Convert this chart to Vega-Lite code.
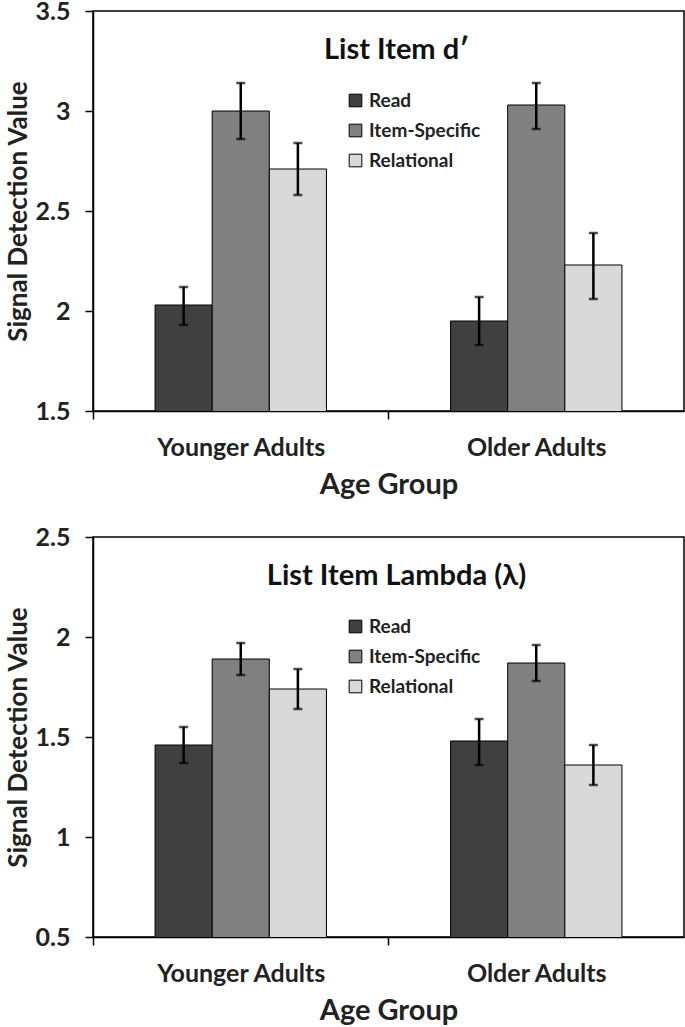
{
  "$schema": "https://vega.github.io/schema/vega-lite/v6.json",
  "padding": {"top": -2, "left": 4, "right": 1, "bottom": 2},
  "background": "white",
  "config": {
    "font": "Lato",
    "view": {"stroke": "black", "strokeWidth": 1.5},
    "concat": {"spacing": 24},
    "axis": {
      "domainColor": "black",
      "domainWidth": 1.5,
      "tickColor": "black",
      "tickWidth": 1.5,
      "tickSize": 8,
      "labelFont": "Lato",
      "labelFontWeight": "bold",
      "labelFontSize": 25,
      "labelColor": "#222",
      "titleFont": "Lato",
      "titleFontWeight": "bold",
      "titleColor": "#222",
      "grid": false
    },
    "legend": {
      "labelFont": "Lato",
      "labelFontWeight": "bold",
      "labelFontSize": 19,
      "labelColor": "#222",
      "symbolType": "square",
      "symbolSize": 160,
      "symbolStrokeColor": "black",
      "symbolStrokeWidth": 1,
      "symbolOpacity": 1,
      "rowPadding": 10,
      "labelOffset": 4
    },
    "title": {"font": "Lato", "fontWeight": "bold", "fontSize": 29, "color": "#111", "anchor": "middle", "frame": "group"}
  },
  "datasets": {
    "vals": [
      {"panel": "d", "group": "Younger Adults", "cond": "Read", "val": 2.03, "lo": 1.93, "hi": 2.12},
      {"panel": "d", "group": "Younger Adults", "cond": "Item-Specific", "val": 3.0, "lo": 2.86, "hi": 3.14},
      {"panel": "d", "group": "Younger Adults", "cond": "Relational", "val": 2.71, "lo": 2.58, "hi": 2.84},
      {"panel": "d", "group": "Older Adults", "cond": "Read", "val": 1.95, "lo": 1.83, "hi": 2.07},
      {"panel": "d", "group": "Older Adults", "cond": "Item-Specific", "val": 3.03, "lo": 2.91, "hi": 3.14},
      {"panel": "d", "group": "Older Adults", "cond": "Relational", "val": 2.23, "lo": 2.06, "hi": 2.39},
      {"panel": "l", "group": "Younger Adults", "cond": "Read", "val": 1.46, "lo": 1.37, "hi": 1.55},
      {"panel": "l", "group": "Younger Adults", "cond": "Item-Specific", "val": 1.89, "lo": 1.81, "hi": 1.97},
      {"panel": "l", "group": "Younger Adults", "cond": "Relational", "val": 1.74, "lo": 1.64, "hi": 1.84},
      {"panel": "l", "group": "Older Adults", "cond": "Read", "val": 1.48, "lo": 1.36, "hi": 1.59},
      {"panel": "l", "group": "Older Adults", "cond": "Item-Specific", "val": 1.87, "lo": 1.78, "hi": 1.96},
      {"panel": "l", "group": "Older Adults", "cond": "Relational", "val": 1.36, "lo": 1.26, "hi": 1.46}
    ]
  },
  "resolve": {"legend": {"color": "independent"}, "scale": {"y": "independent", "color": "independent"}},
  "vconcat": [
    {
      "width": 591,
      "height": 400,
      "title": {"text": "List Item d′", "offset": -66, "dx": 8},
      "data": {"name": "vals"},
      "transform": [{"filter": "datum.panel === 'd'"}],
      "encoding": {
        "x": {
          "field": "group", "type": "nominal", "sort": ["Younger Adults", "Older Adults"],
          "scale": {"paddingInner": 0.42, "paddingOuter": 0.21},
          "axis": {"title": "Age Group", "titleFontSize": 29, "titlePadding": 10, "labelAngle": 0, "labelPadding": 16, "tickOffset": -147.75, "labelOffset": 147.75}
        },
        "xOffset": {"field": "cond", "type": "nominal", "sort": ["Read", "Item-Specific", "Relational"], "scale": {"paddingInner": 0, "paddingOuter": 0}}
      },
      "layer": [
        {
          "mark": {"type": "bar", "stroke": "black", "strokeWidth": 1, "clip": true},
          "encoding": {
            "y": {"field": "val", "type": "quantitative", "scale": {"domain": [1.5, 3.5], "nice": false, "zero": false},
              "axis": {"title": "Signal Detection Value", "titleFontSize": 26, "titlePadding": 4, "values": [1.5, 2, 2.5, 3, 3.5], "format": "~g", "labelPadding": 15}},
            "color": {"field": "cond", "type": "nominal", "sort": ["Read", "Item-Specific", "Relational"],
              "scale": {"domain": ["Read", "Item-Specific", "Relational"], "range": ["#404040", "#808080", "#d9d9d9"]},
              "legend": {"title": null, "orient": "none", "legendX": 253, "legendY": 80}}
          }
        },
        {
          "mark": {"type": "rule", "color": "black", "strokeWidth": 2.5},
          "encoding": {"y": {"field": "lo", "type": "quantitative"}, "y2": {"field": "hi"}}
        },
        {
          "mark": {"type": "tick", "color": "black", "thickness": 2.5, "size": 9},
          "encoding": {"y": {"field": "lo", "type": "quantitative"}}
        },
        {
          "mark": {"type": "tick", "color": "black", "thickness": 2.5, "size": 9},
          "encoding": {"y": {"field": "hi", "type": "quantitative"}}
        }
      ]
    },
    {
      "width": 591,
      "height": 400,
      "title": {"text": "List Item Lambda (λ)", "offset": -66, "dx": 8},
      "data": {"name": "vals"},
      "transform": [{"filter": "datum.panel === 'l'"}],
      "encoding": {
        "x": {
          "field": "group", "type": "nominal", "sort": ["Younger Adults", "Older Adults"],
          "scale": {"paddingInner": 0.42, "paddingOuter": 0.21},
          "axis": {"title": "Age Group", "titleFontSize": 29, "titlePadding": 10, "labelAngle": 0, "labelPadding": 16, "tickOffset": -147.75, "labelOffset": 147.75}
        },
        "xOffset": {"field": "cond", "type": "nominal", "sort": ["Read", "Item-Specific", "Relational"], "scale": {"paddingInner": 0, "paddingOuter": 0}}
      },
      "layer": [
        {
          "mark": {"type": "bar", "stroke": "black", "strokeWidth": 1, "clip": true},
          "encoding": {
            "y": {"field": "val", "type": "quantitative", "scale": {"domain": [0.5, 2.5], "nice": false, "zero": false},
              "axis": {"title": "Signal Detection Value", "titleFontSize": 26, "titlePadding": 4, "values": [0.5, 1, 1.5, 2, 2.5], "format": "~g", "labelPadding": 15}},
            "color": {"field": "cond", "type": "nominal", "sort": ["Read", "Item-Specific", "Relational"],
              "scale": {"domain": ["Read", "Item-Specific", "Relational"], "range": ["#404040", "#808080", "#d9d9d9"]},
              "legend": {"title": null, "orient": "none", "legendX": 253, "legendY": 80}}
          }
        },
        {
          "mark": {"type": "rule", "color": "black", "strokeWidth": 2.5},
          "encoding": {"y": {"field": "lo", "type": "quantitative"}, "y2": {"field": "hi"}}
        },
        {
          "mark": {"type": "tick", "color": "black", "thickness": 2.5, "size": 9},
          "encoding": {"y": {"field": "lo", "type": "quantitative"}}
        },
        {
          "mark": {"type": "tick", "color": "black", "thickness": 2.5, "size": 9},
          "encoding": {"y": {"field": "hi", "type": "quantitative"}}
        }
      ]
    }
  ]
}
